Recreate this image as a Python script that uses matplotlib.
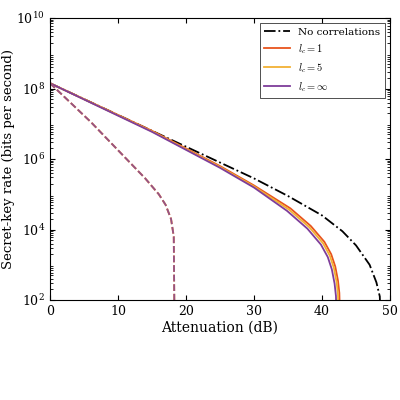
import numpy as np
import matplotlib
matplotlib.use("Agg")
import matplotlib.pyplot as plt

plt.rcParams["font.family"] = "DejaVu Serif"
plt.rcParams["mathtext.fontset"] = "cm"

# log10 of key rate
att_nc = [0, 5, 10, 15, 20, 25, 30, 35, 40, 43, 45, 47, 48, 48.5, 48.6]
log_nc = [8.15, 7.7, 7.25, 6.8, 6.35, 5.9, 5.45, 4.95, 4.4, 3.95, 3.55, 3.0, 2.5, 2.1, 1.5]

att_solid = [0, 5, 10, 15, 20, 25, 30, 35, 38, 40, 41, 41.6, 42.0, 42.2, 42.3]
log_solid = [8.15, 7.7, 7.25, 6.8, 6.3, 5.8, 5.25, 4.6, 4.1, 3.65, 3.3, 2.95, 2.55, 2.2, 1.5]
shift = {"orange": 0.35, "gold": 0.15, "purple": -0.15}
drop = {"orange": 0.0, "gold": -0.04, "purple": -0.08}

att_dash = [0, 3, 6, 9, 12, 14, 16, 17, 17.8, 18.2, 18.3]
log_dash = [8.15, 7.6, 7.05, 6.45, 5.85, 5.45, 5.0, 4.7, 4.3, 3.8, 1.5]

colors = {"orange": "#e8541c", "gold": "#f2b134", "purple": "#7e3d9a"}
labels = {"orange": r"$l_c = 1$", "gold": r"$l_c = 5$", "purple": r"$l_c = \infty$"}

fig, ax = plt.subplots(figsize=(4, 4), dpi=100)
ax.plot(att_nc, 10 ** np.array(log_nc), color="k", ls="-.", lw=1.3, label="No correlations")
for key in ["orange", "gold", "purple"]:
    x = np.array(att_solid) + np.where(np.array(att_solid) > 30, shift[key], 0)
    y = 10 ** (np.array(log_solid) + drop[key] * np.array(att_solid) / 40)
    ax.plot(x, y, color=colors[key], lw=1.3, label=labels[key])
for key in ["orange", "gold", "purple"]:
    ax.plot(att_dash, 10 ** np.array(log_dash), color=colors[key], ls="--", lw=1.3, alpha=0.8)

ax.set_yscale("log")
ax.set_xlim(0, 50)
ax.set_ylim(1e2, 1e10)
ax.set_yticks([1e2, 1e4, 1e6, 1e8, 1e10])
ax.set_xlabel("Attenuation (dB)", fontsize=10, labelpad=2)
ax.set_ylabel("Secret-key rate (bits per second)", fontsize=9.5, labelpad=1)
ax.tick_params(which="both", direction="in", top=True, right=True, labelsize=9)
leg = ax.legend(loc="upper right", fontsize=7.5, fancybox=False, edgecolor="k",
                handlelength=2.5)
leg.get_frame().set_linewidth(0.6)
fig.subplots_adjust(left=0.125, right=0.975, top=0.955, bottom=0.25)
fig.savefig("out.png")
